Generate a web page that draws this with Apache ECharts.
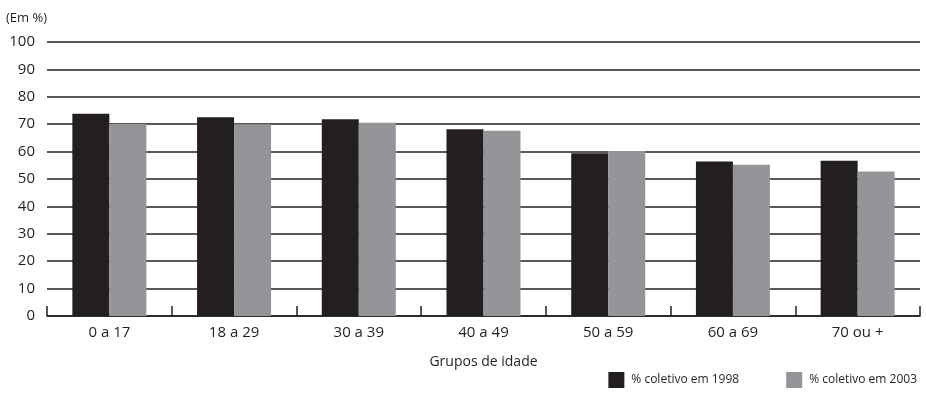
<!DOCTYPE html>
<html>
<head>
<meta charset="utf-8">
<script src="https://cdn.jsdelivr.net/npm/echarts@6/dist/echarts.min.js"></script>
<style>
  html, body { margin: 0; padding: 0; background: #ffffff; }
  #chart { width: 926px; height: 394px; }
</style>
</head>
<body>
<div id="chart"></div>
<script>
// Age groups on the horizontal axis
const categories = ['0 a 17', '18 a 29', '30 a 39', '40 a 49', '50 a 59', '60 a 69', '70 ou +'];
// Share (%) per age group, by survey year
const values1998 = [73.8, 72.5, 71.8, 68.2, 59.4, 56.4, 56.7];
const values2003 = [70.1, 70.0, 70.5, 67.6, 60.2, 55.2, 52.7];
const seriesNames = ['% coletivo em 1998', '% coletivo em 2003'];
const yTicks = { min: 0, max: 100, interval: 10 };

const ink = '#231f20';
const grey = '#939598';
const font = '"Open Sans", "Liberation Sans", sans-serif';

const chart = echarts.init(document.getElementById('chart'), null, { renderer: 'canvas' });
chart.setOption({
  animation: false,
  backgroundColor: '#ffffff',
  textStyle: { fontFamily: font, color: ink },
  grid: { left: 47, right: 6, top: 42, bottom: 78, containLabel: false },
  graphic: [{
    type: 'text', left: 6, top: 12,
    style: { text: '(Em %)', fontFamily: font, fontSize: 13, fill: ink }
  }],
  legend: {
    right: 4, bottom: 1,
    itemWidth: 16, itemHeight: 16, itemGap: 47,
    icon: 'rect',
    textStyle: { fontFamily: font, fontSize: 12, color: ink, padding: [0, 0, 0, 2] },
    data: seriesNames
  },
  xAxis: {
    type: 'category',
    data: categories,
    name: 'Grupos de idade',
    nameLocation: 'middle',
    nameGap: 39,
    nameTextStyle: { fontFamily: font, fontSize: 14, color: ink },
    axisLine: { lineStyle: { color: ink, width: 1.5 } },
    axisTick: { show: true, inside: true, length: 10, lineStyle: { color: ink, width: 1.5 } },
    axisLabel: { fontFamily: font, fontSize: 15, color: ink, margin: 9 },
    splitLine: { show: false }
  },
  yAxis: {
    type: 'value',
    min: yTicks.min, max: yTicks.max, interval: yTicks.interval,
    axisLine: { show: false },
    axisTick: { show: false },
    axisLabel: { fontFamily: font, fontSize: 15, color: ink, margin: 12 },
    splitLine: { lineStyle: { color: ink, width: 1.5 } }
  },
  series: [
    {
      name: seriesNames[0], type: 'bar', data: values1998,
      barWidth: 37, barGap: '0%',
      itemStyle: { color: ink }
    },
    {
      name: seriesNames[1], type: 'bar', data: values2003,
      barWidth: 37,
      itemStyle: { color: grey }
    }
  ]
});
</script>
</body>
</html>
